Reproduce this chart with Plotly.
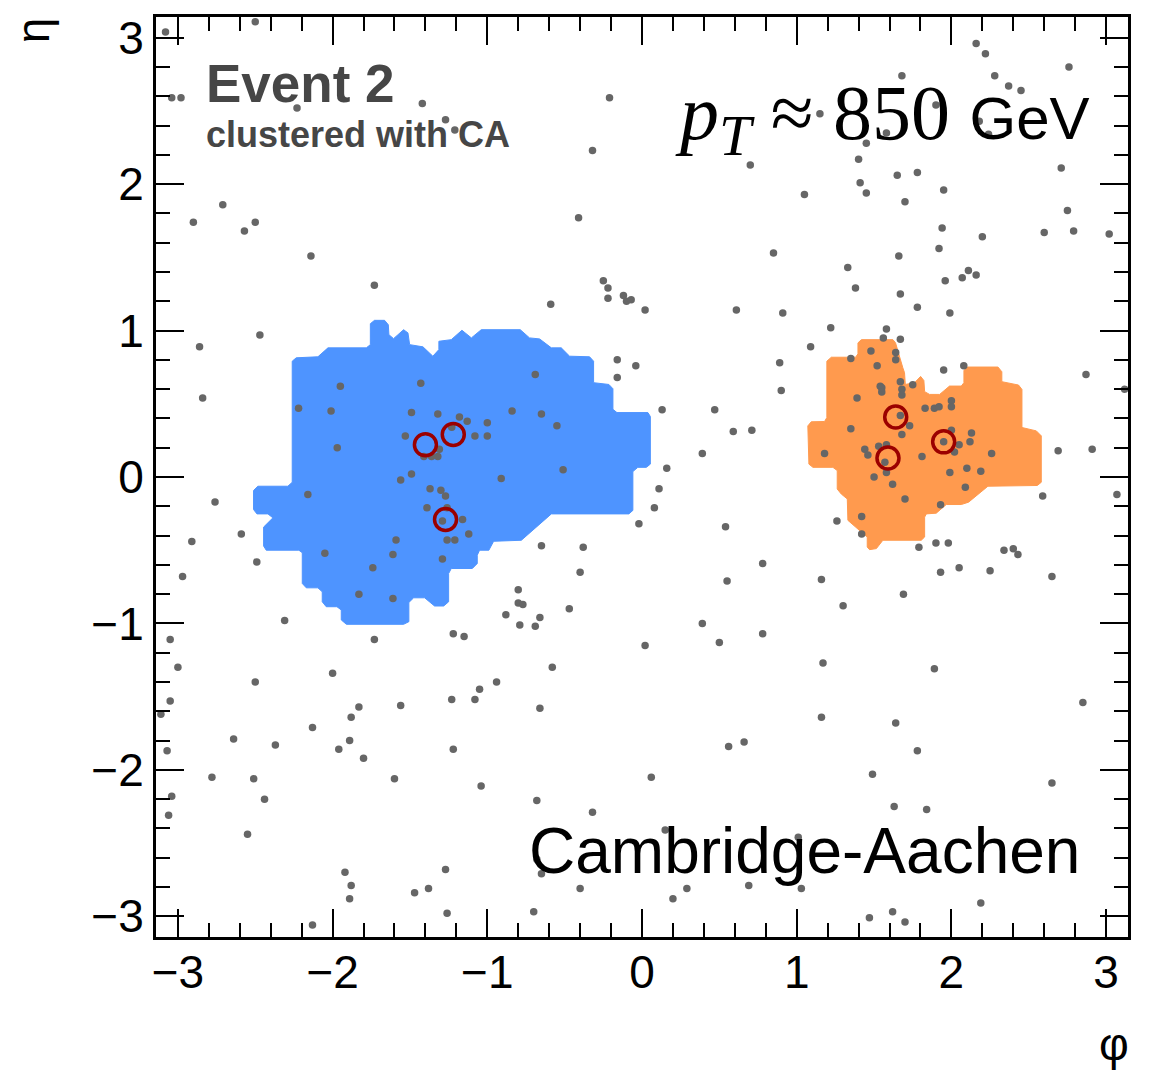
import math
import plotly.graph_objects as go

# ---- data (phi, eta) ----
particles = [
    (-3.08, 3.04), (-2.50, 3.11), (-3.04, 2.59), (-2.98, 2.59), (-2.23, 2.52), (-1.42, 2.55),
    (-1.27, 2.44), (-1.21, 2.37), (-2.71, 1.86), (-2.90, 1.74), (-2.57, 1.68), (-2.50, 1.74),
    (-2.14, 1.51), (-1.73, 1.31), (-0.21, 2.59), (-0.32, 2.23), (1.15, 2.48), (0.70, 2.13),
    (1.05, 1.93), (-0.41, 1.77), (0.85, 1.53), (-0.25, 1.34), (-0.22, 1.29), (-0.22, 1.22),
    (-0.12, 1.24), (-0.10, 1.20), (-0.07, 1.21), (-0.59, 1.18), (0.02, 1.14), (0.61, 1.14),
    (0.91, 1.12), (2.16, 2.96), (2.22, 2.89), (2.76, 2.80), (1.68, 2.74), (2.28, 2.74),
    (2.37, 2.67), (2.45, 2.64), (1.90, 2.54), (2.18, 2.43), (2.24, 2.34), (1.58, 2.35),
    (1.45, 2.28), (1.40, 2.17), (2.71, 2.11), (1.65, 2.06), (1.78, 2.08), (1.41, 2.01),
    (1.45, 1.94), (1.95, 1.96), (1.70, 1.88), (2.75, 1.82), (1.94, 1.70), (2.20, 1.64),
    (2.60, 1.67), (2.79, 1.68), (3.02, 1.66), (1.92, 1.56), (1.66, 1.51), (1.33, 1.43),
    (1.38, 1.29), (1.67, 1.25), (1.96, 1.34), (2.07, 1.36), (2.11, 1.41), (2.16, 1.38),
    (1.78, 1.16), (1.99, 1.12), (1.22, 1.02), (1.58, 1.01), (-2.47, 0.97), (-2.86, 0.89),
    (-2.84, 0.54), (-1.95, 0.62), (-2.22, 0.47), (-2.01, 0.45), (-1.97, 0.20), (-1.43, 0.64),
    (-1.49, 0.44), (-1.32, 0.43), (-1.18, 0.41), (-1.13, 0.38), (-1.00, 0.37), (-0.84, 0.45),
    (-0.65, 0.43), (-0.55, 0.35), (-0.69, 0.70), (-0.16, 0.80), (-0.04, 0.76), (-0.16, 0.68),
    (-1.53, 0.28), (-1.08, 0.28), (-1.00, 0.28), (-1.31, 0.19), (-1.41, 0.14), (-1.36, 0.14),
    (-1.32, 0.14), (-1.23, 0.34), (-1.49, 0.02), (-1.56, -0.02), (-0.91, -0.01), (-0.51, 0.05),
    (-2.16, -0.12), (-1.37, -0.08), (-1.30, -0.09), (-1.27, -0.13), (-1.39, -0.21), (-1.26, -0.21),
    (-1.29, -0.30), (-1.16, -0.29), (-1.12, -0.39), (-1.26, -0.43), (-1.21, -0.43), (-1.59, -0.43),
    (-2.05, -0.52), (-1.61, -0.53), (-1.29, -0.56), (-1.74, -0.62), (-1.83, -0.80), (-1.61, -0.83),
    (-2.49, -0.58), (-2.31, -0.98), (-2.76, -0.17), (-2.59, -0.39), (-2.91, -0.44), (-2.97, -0.68),
    (-1.22, -1.07), (-1.15, -1.09), (1.09, 0.89), (0.89, 0.78), (0.90, 0.59), (0.13, 0.46),
    (0.47, 0.46), (0.59, 0.31), (0.71, 0.32), (0.39, 0.16), (0.16, 0.06), (0.11, -0.08),
    (0.08, -0.21), (-0.02, -0.32), (0.54, -0.34), (-0.65, -0.47), (-0.38, -0.48), (-0.40, -0.65),
    (0.78, -0.59), (0.55, -0.71), (1.16, -0.70), (-0.80, -0.77), (-0.80, -0.86), (-0.77, -0.87),
    (-0.88, -0.94), (-0.47, -0.90), (-0.66, -0.96), (-0.79, -1.01), (-0.69, -1.02), (0.39, -1.00),
    (0.78, -1.07), (1.56, 0.95), (1.67, 0.94), (1.48, 0.86), (1.64, 0.85), (1.35, 0.81),
    (1.64, 0.80), (1.52, 0.76), (1.95, 0.73), (2.08, 0.76), (1.39, 0.54), (1.54, 0.62),
    (1.55, 0.61), (1.55, 0.58), (1.67, 0.65), (1.75, 0.63), (1.68, 0.60), (1.68, 0.56),
    (1.83, 0.47), (1.89, 0.47), (1.92, 0.48), (2.00, 0.52), (2.00, 0.48), (1.67, 0.42),
    (1.73, 0.35), (1.35, 0.33), (1.68, 0.29), (2.00, 0.32), (2.13, 0.30), (1.95, 0.24),
    (2.05, 0.22), (2.12, 0.24), (2.02, 0.17), (2.26, 0.16), (1.18, 0.16), (1.44, 0.19),
    (1.46, 0.15), (1.53, 0.21), (1.58, 0.22), (1.81, 0.14), (1.57, 0.10), (1.58, 0.03),
    (1.50, 0.00), (1.62, -0.05), (1.99, 0.03), (2.10, 0.06), (2.19, 0.04), (2.09, -0.07),
    (2.59, -0.13), (1.70, -0.15), (1.93, -0.19), (1.42, -0.27), (1.26, -0.30), (1.42, -0.39),
    (1.79, -0.48), (1.90, -0.45), (1.98, -0.45), (2.34, -0.50), (2.40, -0.49), (2.43, -0.53),
    (2.69, 0.18), (2.91, 0.19), (2.87, 0.70), (3.12, 0.60), (3.07, -0.12), (2.05, -0.62),
    (1.93, -0.65), (2.25, -0.64), (2.65, -0.68), (1.69, -0.80), (1.30, -0.88), (-3.05, -1.11),
    (-1.73, -1.11), (-3.00, -1.30), (-2.50, -1.40), (-2.00, -1.34), (-3.05, -1.53), (-3.11, -1.62),
    (-1.83, -1.57), (-1.88, -1.64), (-1.56, -1.56), (-1.23, -1.52), (-1.08, -1.52), (-1.05, -1.45),
    (-2.13, -1.71), (-2.64, -1.79), (-2.37, -1.83), (-1.89, -1.80), (-1.96, -1.86), (-3.07, -1.87),
    (-1.80, -1.92), (-1.22, -1.86), (-2.78, -2.05), (-2.51, -2.06), (-1.60, -2.06), (-1.04, -2.11),
    (-3.04, -2.18), (-2.44, -2.20), (-3.06, -2.31), (-2.55, -2.44), (-1.92, -2.70), (-1.88, -2.79),
    (-1.89, -2.88), (-1.27, -2.68), (-1.38, -2.81), (-1.47, -2.84), (-1.26, -2.98), (-2.13, -3.06),
    (0.02, -1.15), (0.50, -1.13), (1.17, -1.27), (-0.58, -1.30), (-0.94, -1.40), (-0.66, -1.58),
    (1.16, -1.64), (0.56, -1.84), (0.66, -1.81), (0.06, -2.05), (-0.68, -2.21), (-0.32, -2.29),
    (0.15, -2.41), (1.01, -2.46), (-0.68, -2.61), (-0.65, -2.71), (-0.40, -2.81), (0.29, -2.81),
    (0.20, -2.88), (0.69, -2.79), (1.03, -2.81), (-0.70, -2.97), (1.89, -1.31), (1.64, -1.68),
    (2.85, -1.54), (1.78, -1.87), (1.49, -2.03), (2.65, -2.09), (1.63, -2.25), (1.84, -2.27),
    (2.19, -2.91), (1.47, -3.01), (1.62, -2.97), (1.70, -3.04),
]

subjets = [(-1.40, 0.22), (-1.22, 0.29), (-1.27, -0.29), (1.64, 0.41), (1.59, 0.13), (1.95, 0.24)]

blue_jet_area = [
    (-2.261, -0.036), (-2.261, 0.791), (-2.235, 0.814), (-2.095, 0.821), (-2.030, 0.882),
    (-1.782, 0.882), (-1.756, 0.904), (-1.756, 1.047), (-1.729, 1.070), (-1.664, 1.070),
    (-1.640, 1.040), (-1.636, 0.972), (-1.606, 0.945), (-1.541, 1.006), (-1.513, 0.984),
    (-1.502, 0.904), (-1.416, 0.889), (-1.352, 0.825), (-1.313, 0.870), (-1.313, 0.927),
    (-1.233, 0.938), (-1.164, 1.002), (-1.103, 0.950), (-1.039, 1.006), (-0.787, 1.006),
    (-0.727, 0.950), (-0.662, 0.943), (-0.586, 0.882), (-0.522, 0.882), (-0.468, 0.825),
    (-0.339, 0.821), (-0.313, 0.791), (-0.313, 0.644), (-0.214, 0.632), (-0.188, 0.603),
    (-0.188, 0.462), (-0.162, 0.440), (0.038, 0.440), (0.054, 0.413), (0.054, 0.088),
    (0.028, 0.066), (-0.027, 0.066), (-0.059, 0.037), (-0.059, -0.228), (-0.085, -0.252),
    (-0.586, -0.252), (-0.780, -0.432), (-0.959, -0.439), (-0.990, -0.500), (-1.050, -0.500),
    (-1.065, -0.534), (-1.065, -0.591), (-1.097, -0.625), (-1.233, -0.625), (-1.250, -0.659),
    (-1.250, -0.852), (-1.282, -0.881), (-1.341, -0.881), (-1.405, -0.825), (-1.476, -0.825),
    (-1.507, -0.857), (-1.507, -0.988), (-1.541, -1.006), (-1.911, -1.006), (-1.944, -0.976),
    (-1.944, -0.908), (-1.972, -0.886), (-2.041, -0.886), (-2.067, -0.852), (-2.067, -0.784),
    (-2.095, -0.757), (-2.170, -0.757), (-2.196, -0.727), (-2.196, -0.517), (-2.218, -0.500),
    (-2.429, -0.500), (-2.446, -0.471), (-2.446, -0.342), (-2.386, -0.279), (-2.418, -0.252),
    (-2.489, -0.252), (-2.511, -0.222), (-2.511, -0.092), (-2.483, -0.063), (-2.289, -0.063),
]

orange_jet_area = [
    (1.396, 0.916), (1.418, 0.938), (1.622, 0.938), (1.639, 0.916), (1.686, 0.746),
    (1.697, 0.712), (1.702, 0.632), (1.762, 0.644), (1.801, 0.687), (1.822, 0.659),
    (1.827, 0.583), (1.859, 0.564), (1.924, 0.564), (1.988, 0.621), (2.064, 0.621),
    (2.081, 0.644), (2.081, 0.727), (2.103, 0.751), (2.301, 0.751), (2.326, 0.719),
    (2.326, 0.651), (2.434, 0.628), (2.456, 0.598), (2.456, 0.338), (2.549, 0.315),
    (2.581, 0.281), (2.581, -0.036), (2.555, -0.058), (2.236, -0.063), (2.111, -0.172),
    (2.064, -0.188), (1.967, -0.188), (1.902, -0.247), (1.838, -0.252), (1.827, -0.274),
    (1.827, -0.410), (1.805, -0.432), (1.557, -0.432), (1.515, -0.489), (1.471, -0.496),
    (1.456, -0.478), (1.456, -0.410), (1.418, -0.376), (1.331, -0.296), (1.327, -0.150),
    (1.288, -0.116), (1.262, -0.082), (1.262, 0.044), (1.234, 0.066), (1.105, 0.066),
    (1.079, 0.088), (1.072, 0.349), (1.094, 0.377), (1.180, 0.379), (1.195, 0.406),
    (1.195, 0.791), (1.224, 0.818), (1.381, 0.818), (1.396, 0.841),
]

x_ticks = [-3, -2, -1, 0, 1, 2, 3]
y_ticks = [-3, -2, -1, 0, 1, 2, 3]

SANS = "Liberation Sans, Arial, Helvetica, sans-serif"
SERIF = "Liberation Serif, Times New Roman, serif"


def unzip(pts, close=False):
    xs = [p[0] for p in pts]
    ys = [p[1] for p in pts]
    if close:
        xs.append(xs[0])
        ys.append(ys[0])
    return xs, ys


fig = go.Figure()

bx, by = unzip(blue_jet_area, close=True)
fig.add_trace(go.Scatter(x=bx, y=by, mode="lines", fill="toself",
                         fillcolor="#4e94ff", line=dict(color="#4e94ff", width=1),
                         hoverinfo="skip", showlegend=False))
ox, oy = unzip(orange_jet_area, close=True)
fig.add_trace(go.Scatter(x=ox, y=oy, mode="lines", fill="toself",
                         fillcolor="#ff9a4e", line=dict(color="#ff9a4e", width=1),
                         hoverinfo="skip", showlegend=False))

px_, py_ = unzip(particles)
fig.add_trace(go.Scatter(x=px_, y=py_, mode="markers",
                         marker=dict(size=7.5, color="#666666", line=dict(width=0)),
                         showlegend=False))

sx, sy = unzip(subjets)
fig.add_trace(go.Scatter(x=sx, y=sy, mode="markers",
                         marker=dict(symbol="circle-open", size=22, color="#9b0000",
                                     line=dict(width=3.5, color="#9b0000")),
                         showlegend=False))

axis_common = dict(
    range=[-math.pi, math.pi], showgrid=False, zeroline=False,
    showline=True, linewidth=3, linecolor="black", mirror="ticks",
    ticks="inside", ticklen=28, tickwidth=2, tickcolor="black",
    minor=dict(ticks="inside", ticklen=14, tickwidth=2, tickcolor="black", dtick=0.2, tick0=0),
    tickfont=dict(family=SANS, size=46, color="black"),
)

fig.update_layout(
    width=1151, height=1074,
    margin=dict(l=156, r=23, t=12, b=137),
    paper_bgcolor="white", plot_bgcolor="white",
    xaxis=dict(tickvals=x_ticks, ticklabelstandoff=-7, **axis_common),
    yaxis=dict(tickvals=y_ticks, ticklabelstandoff=0, **axis_common),
)

annotations = [
    dict(text="<b>Event 2</b>", x=0.049, y=0.928, xanchor="left", yanchor="middle",
         font=dict(family=SANS, size=53, color="#464646")),
    dict(text="<b>clustered with CA</b>", x=0.049, y=0.872, xanchor="left", yanchor="middle",
         font=dict(family=SANS, size=36, color="#464646")),
    dict(text="<i>p</i><sub><i><span style=\"font-size:58px\">T</span></i></sub> ≈ 850 "
              "<span style=\"font-family:Liberation Sans;font-size:60px\">GeV</span>",
         x=0.963, y=0.89, xanchor="right", yanchor="middle",
         font=dict(family=SERIF, size=78, color="black")),
    dict(text="Cambridge-Aachen", x=0.9527, y=0.093, xanchor="right", yanchor="middle",
         font=dict(family=SANS, size=64, color="black")),
    dict(text="η", x=-0.127, y=0.985, xanchor="center", yanchor="middle", textangle=-90,
         font=dict(family=SANS, size=46, color="black")),
    dict(text="φ", x=0.9856, y=-0.1168, xanchor="center", yanchor="middle",
         font=dict(family=SANS, size=46, color="black")),
]
for a in annotations:
    a.update(xref="paper", yref="paper", showarrow=False)
fig.update_layout(annotations=annotations)

fig.write_html("out.html")
